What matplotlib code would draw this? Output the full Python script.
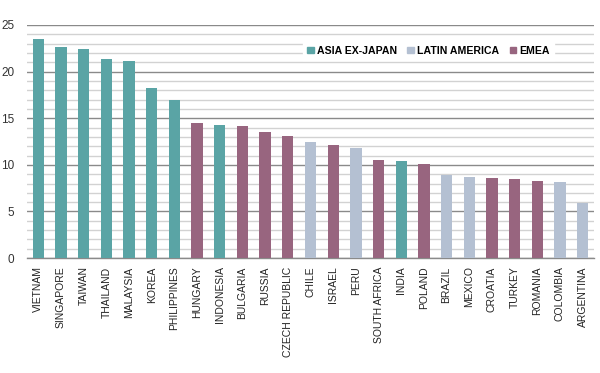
import numpy as np
import matplotlib
matplotlib.use("Agg")
import matplotlib.pyplot as plt
from matplotlib.ticker import MultipleLocator
from matplotlib.patches import Patch

countries = ["VIETNAM", "SINGAPORE", "TAIWAN", "THAILAND", "MALAYSIA", "KOREA",
             "PHILIPPINES", "HUNGARY", "INDONESIA", "BULGARIA", "RUSSIA",
             "CZECH REPUBLIC", "CHILE", "ISRAEL", "PERU", "SOUTH AFRICA", "INDIA",
             "POLAND", "BRAZIL", "MEXICO", "CROATIA", "TURKEY", "ROMANIA",
             "COLOMBIA", "ARGENTINA"]
values = [23.5, 22.6, 22.45, 21.4, 21.1, 18.2, 16.95, 14.5, 14.3, 14.15, 13.5,
          13.1, 12.5, 12.1, 11.85, 10.55, 10.45, 10.1, 8.95, 8.75, 8.6, 8.45,
          8.25, 8.15, 5.95]
regions = ["ASIA", "ASIA", "ASIA", "ASIA", "ASIA", "ASIA", "ASIA", "EMEA", "ASIA",
           "EMEA", "EMEA", "EMEA", "LATAM", "EMEA", "LATAM", "EMEA", "ASIA",
           "EMEA", "LATAM", "LATAM", "EMEA", "EMEA", "EMEA", "LATAM", "LATAM"]

region_colors = {"ASIA": "#5aa4a5", "LATAM": "#b4c0d2", "EMEA": "#98657f"}
region_labels = {"ASIA": "ASIA EX-JAPAN", "LATAM": "LATIN AMERICA", "EMEA": "EMEA"}

plt.rcParams["font.family"] = ["Liberation Sans", "DejaVu Sans"]

fig = plt.figure(figsize=(6, 3.73), dpi=100)
ax = fig.add_axes([0.045, 0.308, 0.945, 0.625])

x = np.arange(len(countries))
ax.bar(x, values, width=0.5, color=[region_colors[r] for r in regions], zorder=3)

ax.set_xlim(-0.5, len(countries) - 0.5)
ax.set_ylim(0, 25)
ax.yaxis.set_major_locator(MultipleLocator(5))
ax.yaxis.set_minor_locator(MultipleLocator(1))
ax.grid(axis="y", which="major", color="#8a8a8a", linewidth=1.0, zorder=1)
ax.grid(axis="y", which="minor", color="#d2d2d2", linewidth=1.0, zorder=0)
for s in ["top", "right", "left"]:
    ax.spines[s].set_visible(False)
ax.spines["bottom"].set_color("#8a8a8a")
ax.spines["bottom"].set_linewidth(1.0)

ax.set_xticks(x)
ax.set_xticklabels(countries, rotation=90, fontsize=7.5, color="#222222")
ax.tick_params(axis="x", length=0, pad=6)
ax.tick_params(axis="y", which="both", length=0, labelsize=8.5,
               labelcolor="#333333", pad=9)

handles = [Patch(color=region_colors[k], label=region_labels[k])
           for k in ["ASIA", "LATAM", "EMEA"]]
leg = ax.legend(handles=handles, loc="center", bbox_to_anchor=(0.708, 0.89),
                ncol=3, frameon=True, fancybox=False, framealpha=1,
                edgecolor="white", handlelength=0.6, handleheight=0.6,
                handletextpad=0.3, columnspacing=1.0, borderpad=0.4,
                prop={"family": ["Liberation Sans Narrow", "Liberation Sans"],
                      "weight": "bold", "size": 7.6})
leg.set_zorder(5)

fig.savefig("out.png", dpi=100, facecolor="white")
